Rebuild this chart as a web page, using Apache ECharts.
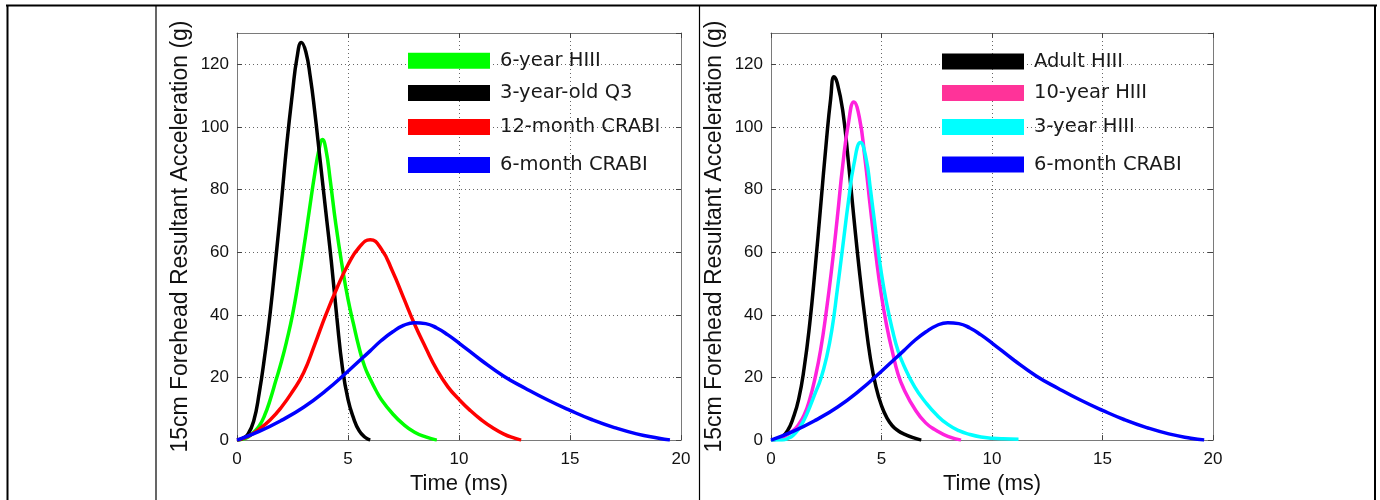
<!DOCTYPE html>
<html><head><meta charset="utf-8">
<script src="https://cdn.jsdelivr.net/npm/echarts@6/dist/echarts.min.js"></script>
<style>html,body{margin:0;padding:0;background:#fff}#c{width:1380px;height:500px}</style>
</head><body><div id="c"></div>
<script>
// ---- data (time ms, acceleration g) ----
const xTickStep = 5;
const yTickStep = 20;
const leftNames = ['6-year HIII', '3-year-old Q3', '12-month CRABI', '6-month CRABI'];
const rightNames = ['Adult HIII', '10-year HIII', '3-year HIII', '6-month CRABI'];

const sixYearHIII = [[0,0],[0.25,0.3],[0.5,1],[0.75,2.5],[1.0,4.5],[1.25,8],[1.5,13],[1.75,19],[2.0,25],[2.25,32],[2.5,40],[2.75,50],[3.0,61],[3.25,73],[3.5,85],[3.7,93],[3.85,96],[4.0,93],[4.2,83],[4.45,69],[4.75,55],[5.0,45],[5.25,37],[5.5,29.5],[5.75,23.5],[6.0,19.5],[6.25,16],[6.5,13],[7.0,8.5],[7.5,5],[8.0,2.5],[8.5,1],[9.0,0]];
const threeYearQ3 = [[0,0],[0.25,0.5],[0.5,2],[0.75,6],[1.0,15],[1.25,27],[1.5,41],[1.75,58],[2.0,76],[2.25,95],[2.5,111],[2.7,122],[2.9,127],[3.1,124],[3.3,116],[3.5,105],[3.75,89],[4.0,73],[4.25,57],[4.5,39],[4.75,23],[5.0,13],[5.25,7],[5.5,3],[5.75,1],[6.0,0]];
const twelveMonthCRABI = [[0,0],[0.5,1.2],[1.0,3.5],[1.5,6.5],[2.0,10.5],[2.5,15.5],[3.0,21.5],[3.5,30.5],[4.0,40],[4.5,48.5],[5.0,56],[5.5,61.5],[6.0,64],[6.5,61],[7.0,54],[7.5,45.5],[8.0,37],[8.5,29.5],[9.0,22.5],[9.5,17],[10.0,13],[10.5,9.5],[11.0,6.5],[11.5,4],[12.0,2],[12.5,0.6],[12.8,0]];
const sixMonthCRABI = [[0,0],[1,2.8],[2,6.3],[3,10.5],[4,15.8],[5,22],[6,28.5],[6.5,31.8],[7,34.5],[7.5,36.6],[8,37.5],[8.5,37.2],[9,35.8],[9.5,33.6],[10,31],[11,25.5],[12,20.5],[13,16.5],[14,12.8],[15,9.5],[16,6.5],[17,4],[18,2],[19,0.6],[19.5,0]];

const adultHIII = [[0,0],[0.25,0.3],[0.5,1],[0.75,3],[1.0,7],[1.25,13],[1.5,23],[1.75,37],[2.0,55],[2.25,75],[2.5,95],[2.7,109],[2.85,116],[3.0,114],[3.25,105],[3.5,89],[3.75,71],[4.0,54],[4.25,39],[4.5,26],[4.75,17],[5.0,11],[5.25,7],[5.5,4.5],[5.75,3],[6.0,2],[6.5,0.6],[6.8,0]];
const tenYearHIII = [[0,0],[0.5,0.8],[1.0,3],[1.25,5],[1.5,8],[1.75,13],[2.0,20],[2.25,29],[2.5,41],[2.75,55],[3.0,71],[3.25,88],[3.5,101],[3.75,108],[4.0,103],[4.25,90],[4.5,74],[4.75,59],[5.0,46],[5.25,36],[5.5,28],[5.75,21],[6.0,16.5],[6.5,10],[7.0,5.5],[7.5,3],[8.0,1.2],[8.6,0]];
const threeYearHIII = [[0,0],[0.5,0],[0.75,0.5],[1.0,1.5],[1.25,3.5],[1.5,6.5],[1.75,10.5],[2.0,15],[2.25,19.5],[2.5,26],[2.75,35],[3.0,48],[3.25,62],[3.5,76],[3.75,88],[4.05,95],[4.3,90],[4.5,80],[4.75,66],[5.0,53],[5.25,43],[5.5,35],[5.75,28.5],[6.0,24],[6.5,17],[7.0,12],[7.5,8],[8.0,5],[8.5,3],[9.0,1.8],[9.5,1],[10.0,0.6],[10.5,0.4],[11.2,0.3]];
const sixMonthCRABIRight = [[0,0],[1,2.8],[2,6.3],[3,10.5],[4,15.8],[5,22],[6,28.5],[6.5,31.8],[7,34.5],[7.5,36.6],[8,37.5],[8.5,37.2],[9,35.8],[9.5,33.6],[10,31],[11,25.5],[12,20.5],[13,16.5],[14,12.8],[15,9.5],[16,6.5],[17,4],[18,2],[19,0.6],[19.6,0]];

// ---- styling ----
const AX = 'Liberation Sans, Arial, sans-serif';
const LG = 'DejaVu Sans, sans-serif';
const frame = '#7a7a7a';
const tickC = '#444';

const leftData = [sixYearHIII, threeYearQ3, twelveMonthCRABI, sixMonthCRABI];
const rightData = [adultHIII, tenYearHIII, threeYearHIII, sixMonthCRABIRight];
const leftColors = ['#00ff00', '#000000', '#ff0000', '#0000ff'];
const rightColors = ['#000000', '#ff22dd', '#00ffff', '#0000ff'];
const rightLegendColors = ['#000000', '#ff3399', '#00ffff', '#0000ff'];

function mainX(g) {
  return {
    gridIndex: g, type: 'value', min: 0, max: 20, interval: xTickStep, position: 'bottom',
    axisLine: {show: true, onZero: false, lineStyle: {color: frame, width: 1}},
    axisTick: {show: true, inside: true, length: 5, lineStyle: {color: tickC}},
    axisLabel: {margin: 11, fontSize: 17, fontFamily: AX, color: '#111'},
    splitLine: {show: true, lineStyle: {type: [1, 3], color: '#666', width: 1}},
    name: 'Time (ms)', nameLocation: 'middle', nameGap: 28,
    nameTextStyle: {fontSize: 22, fontFamily: AX, color: '#111'}
  };
}
function mirrorX(g) {
  return {
    gridIndex: g, type: 'value', min: 0, max: 20, interval: xTickStep, position: 'top',
    axisLine: {show: true, onZero: false, lineStyle: {color: frame, width: 1}},
    axisTick: {show: true, inside: true, length: 5, lineStyle: {color: tickC}},
    axisLabel: {show: false}, splitLine: {show: false}
  };
}
function mainY(g) {
  return {
    gridIndex: g, type: 'value', min: 0, max: 130, interval: yTickStep, position: 'left',
    axisLine: {show: true, onZero: false, lineStyle: {color: frame, width: 1}},
    axisTick: {show: true, inside: true, length: 5, lineStyle: {color: tickC}},
    axisLabel: {margin: 8, fontSize: 17, fontFamily: AX, color: '#111', showMaxLabel: false},
    splitLine: {show: true, lineStyle: {type: [1, 3], color: '#666', width: 1}},
    name: '15cm Forehead Resultant Acceleration (g)', nameLocation: 'middle', nameGap: 45,
    nameTextStyle: {fontSize: 23, fontFamily: AX, color: '#111'}
  };
}
function mirrorY(g) {
  return {
    gridIndex: g, type: 'value', min: 0, max: 130, interval: yTickStep, position: 'right',
    axisLine: {show: true, onZero: false, lineStyle: {color: frame, width: 1}},
    axisTick: {show: true, inside: true, length: 5, lineStyle: {color: tickC}},
    axisLabel: {show: false}, splitLine: {show: false}
  };
}

const series = [];
leftNames.forEach((n, i) => series.push({
  name: n, type: 'line', xAxisIndex: 0, yAxisIndex: 0, data: leftData[i],
  showSymbol: false, smooth: 0.5, lineStyle: {width: 3.5, color: leftColors[i]},
  itemStyle: {color: leftColors[i]}, animation: false, z: 3
}));
rightNames.forEach((n, i) => series.push({
  name: n, type: 'line', xAxisIndex: 2, yAxisIndex: 2, data: rightData[i],
  showSymbol: false, smooth: 0.5, lineStyle: {width: 3.5, color: rightColors[i]},
  itemStyle: {color: rightColors[i]}, animation: false, z: 3
}));

const leftTops = [50.7, 83, 117, 155];
const rightTops = [51.5, 83, 117, 154.5];
const legends = [];
function legendItem(name, color, left, top) {
  return {
    data: [{name: name, icon: 'rect', itemStyle: {color: color}}],
    left: left, top: top, padding: 0, itemWidth: 82, itemHeight: 16,
    selectedMode: false,
    textStyle: {fontSize: 19.5, fontFamily: LG, color: '#1a1a1a', lineHeight: 16, padding: [0, 0, 0, 5]}
  };
}
leftNames.forEach((n, i) => legends.push(legendItem(n, leftColors[i], 408, leftTops[i])));
rightNames.forEach((n, i) => legends.push(legendItem(n, rightLegendColors[i], 942, rightTops[i])));

const chart = echarts.init(document.getElementById('c'), null, {renderer: 'canvas'});
chart.setOption({
  animation: false,
  backgroundColor: '#fff',
  grid: [
    {left: 237, right: 699, top: 33, bottom: 57, show: false},
    {left: 771, right: 167, top: 33, bottom: 57, show: false}
  ],
  xAxis: [mainX(0), mirrorX(0), mainX(1), mirrorX(1)],
  yAxis: [mainY(0), mirrorY(0), mainY(1), mirrorY(1)],
  legend: legends,
  series: series,
  graphic: [
    {type: 'line', shape: {x1: 6, y1: 5.5, x2: 1377, y2: 5.5}, style: {stroke: '#000', lineWidth: 2}, silent: true},
    {type: 'line', shape: {x1: 7.5, y1: 5, x2: 7.5, y2: 500}, style: {stroke: '#000', lineWidth: 2}, silent: true},
    {type: 'line', shape: {x1: 156, y1: 5, x2: 156, y2: 500}, style: {stroke: '#000', lineWidth: 1.2}, silent: true},
    {type: 'line', shape: {x1: 699.5, y1: 5, x2: 699.5, y2: 500}, style: {stroke: '#000', lineWidth: 1.2}, silent: true},
    {type: 'line', shape: {x1: 1375, y1: 5, x2: 1375, y2: 500}, style: {stroke: '#000', lineWidth: 2}, silent: true}
  ]
});
</script>
</body></html>
